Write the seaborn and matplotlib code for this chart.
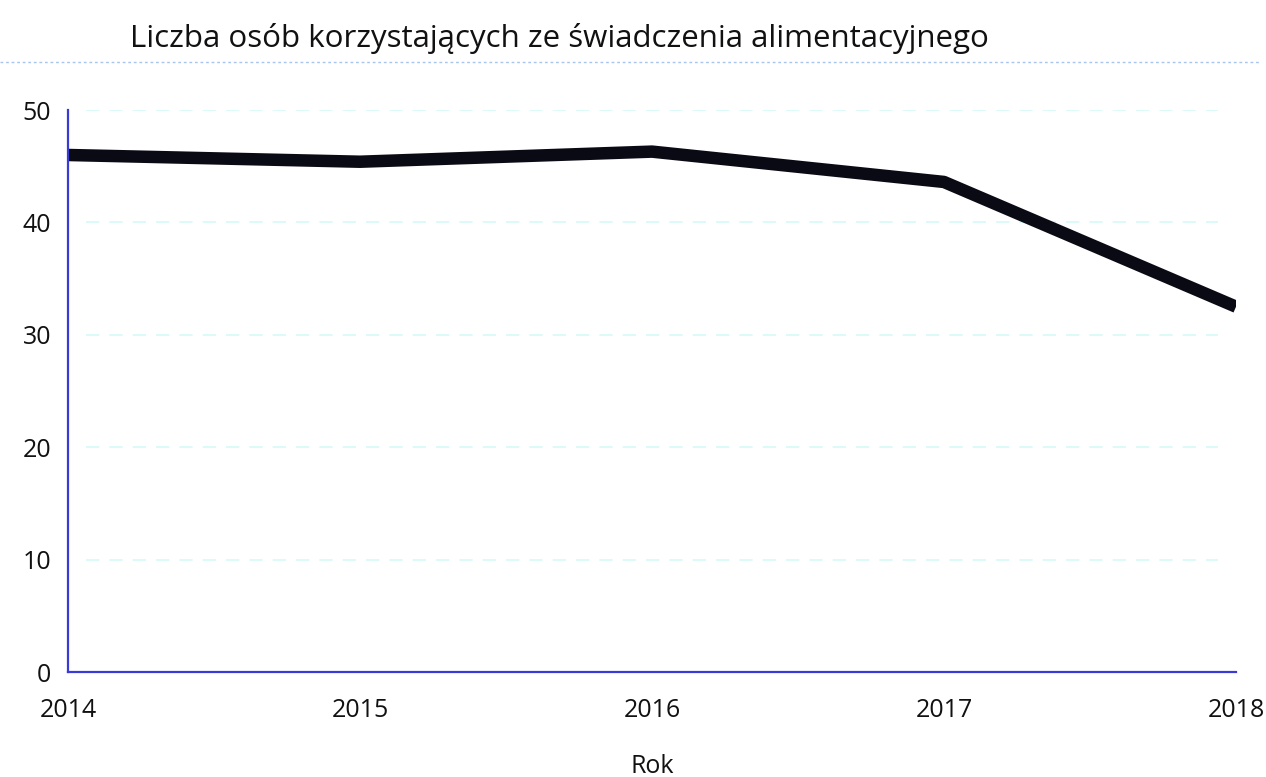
import matplotlib
matplotlib.use("Agg")
import matplotlib.pyplot as plt
from matplotlib.lines import Line2D
import seaborn as sns
import pandas as pd

years = [2014, 2015, 2016, 2017, 2018]
persons = [46.0, 45.4, 46.3, 43.6, 32.5]
y_ticks = [0, 10, 20, 30, 40, 50]

title = "Liczba osób korzystających ze świadczenia alimentacyjnego"
x_label = "Rok"

df = pd.DataFrame({"Rok": years, "Liczba": persons})

sns.set_theme(style="white")
plt.rcParams["font.family"] = ["Open Sans", "DejaVu Sans"]

fig = plt.figure(figsize=(12.66, 7.77), dpi=100)
ax = fig.add_axes([0.0537, 0.1351, 0.9226, 0.7233])

sns.lineplot(data=df, x="Rok", y="Liczba", ax=ax, color="#0a0a14",
             linewidth=9.0, solid_joinstyle="round", solid_capstyle="butt")

ax.set_xlim(years[0], years[-1])
ax.set_ylim(0, 50)
ax.set_yticks(y_ticks)
ax.set_xticks(years)
ax.set_xticklabels([str(y) for y in years])

# faint dashed gridlines
for v in y_ticks[1:]:
    ax.axhline(v, xmin=0.015, xmax=0.985, color="#d6faf7", linewidth=1.2,
               linestyle=(0, (8, 6)), zorder=0)

for side in ["top", "right"]:
    ax.spines[side].set_visible(False)
for side in ["left", "bottom"]:
    ax.spines[side].set_color("#3a3ad6")
    ax.spines[side].set_linewidth(1.6)

ax.tick_params(axis="both", length=0, labelsize=18, colors="#111111")
ax.tick_params(axis="x", pad=19)
ax.tick_params(axis="y", pad=12)
ax.set_xlabel(x_label, fontsize=18, color="#111111", labelpad=22)
ax.set_ylabel("")

fig.text(0.103, 0.951, title, fontsize=22.5, color="#111111",
         ha="left", va="center")

# dotted rule under the title
fig.add_artist(Line2D([0.0, 0.995], [0.92, 0.92], transform=fig.transFigure,
                      color="#a8c4f0", linewidth=1.0, linestyle=(0, (2, 2))))

fig.savefig("out.png", dpi=100, facecolor="white")
